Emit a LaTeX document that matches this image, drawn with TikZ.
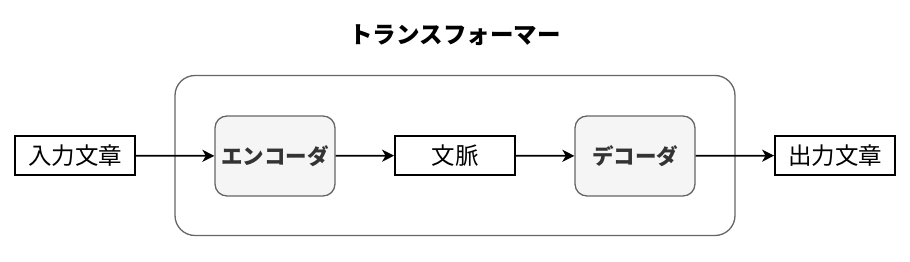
\documentclass[tikz,border=0pt]{standalone}
\usepackage{fontspec}
\newfontfamily\jp{Noto Sans CJK JP}
\usetikzlibrary{arrows.meta}
\definecolor{edgegray}{HTML}{666666}
\definecolor{fillgray}{HTML}{F5F5F5}
\definecolor{textgray}{HTML}{333333}
\begin{document}
\begin{tikzpicture}[x=1pt,y=-1pt,
  plainbox/.style={draw=black, line width=1.8pt, minimum width=120pt, minimum height=39pt, inner sep=0pt, font=\jp\fontsize{23.5}{26}\selectfont},
  corebox/.style={draw=edgegray, line width=1.3pt, fill=fillgray, rounded corners=12pt, minimum width=120pt, minimum height=80pt, inner sep=0pt, text=textgray, font=\jp\bfseries\fontsize{21.5}{26}\selectfont},
  flow/.style={draw=black, line width=1.8pt, -{Stealth[length=12pt,width=12pt,inset=3.5pt]}}
]
\useasboundingbox (0,0) rectangle (910,262);
\node[draw=edgegray, line width=1.3pt, rounded corners=20pt, minimum width=560pt, minimum height=160pt, inner sep=0pt] (outer) at (455,155.5) {};
\node[font=\jp\bfseries\fontsize{23.5}{26}\selectfont] (title) at (455,35) {トランスフォーマー};
\node[plainbox] (in) at (75,155.5) {入力文章};
\node[corebox] (enc) at (275,156) {エンコーダ};
\node[plainbox] (ctx) at (455,155.5) {文脈};
\node[corebox] (dec) at (635,156) {デコーダ};
\node[plainbox] (out) at (835,155.5) {出力文章};
\draw[flow] (in) -- (enc);
\draw[flow] (enc) -- (ctx);
\draw[flow] (ctx) -- (dec);
\draw[flow] (dec) -- (out);
\end{tikzpicture}
\end{document}
